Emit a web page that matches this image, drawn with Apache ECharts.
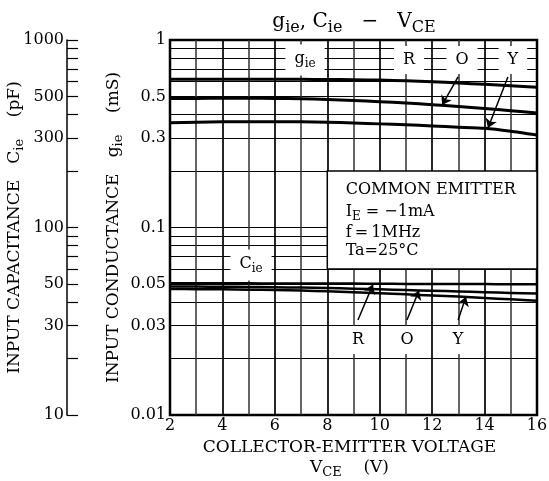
<!DOCTYPE html>
<html><head><meta charset="utf-8">
<script src="https://cdn.jsdelivr.net/npm/echarts@6/dist/echarts.min.js"></script>
<style>html,body{margin:0;padding:0;background:#fff}#c{width:549px;height:481px}</style>
</head><body><div id="c"></div>
<script>
// ---- data ----
const vce = [2, 3, 4, 5, 6, 7, 8, 9, 10, 11, 12, 13, 14, 15, 16];
// input conductance gie (mS)
const gieR = [0.617, 0.617, 0.618, 0.618, 0.618, 0.617, 0.616, 0.614, 0.611, 0.606, 0.599, 0.590, 0.580, 0.570, 0.560];
const gieO = [0.488, 0.488, 0.489, 0.489, 0.488, 0.486, 0.482, 0.476, 0.469, 0.461, 0.452, 0.442, 0.431, 0.420, 0.408];
const gieY = [0.362, 0.364, 0.366, 0.367, 0.367, 0.366, 0.364, 0.361, 0.357, 0.353, 0.348, 0.343, 0.338, 0.326, 0.311];
// input capacitance Cie (pF)
const cieR = [50.5, 50.5, 50.4, 50.4, 50.3, 50.3, 50.2, 50.2, 50.1, 50.0, 50.0, 49.9, 49.9, 49.8, 49.8];
const cieO = [48.5, 48.4, 48.3, 48.2, 48.0, 47.8, 47.5, 47.2, 46.8, 46.4, 46.0, 45.6, 45.2, 44.8, 44.4];
const cieY = [47.0, 46.9, 46.8, 46.6, 46.4, 46.1, 45.7, 45.2, 44.6, 44.0, 43.4, 42.8, 42.1, 41.4, 40.7];
// tick labels / grid ticks
const xTicks = [2, 4, 6, 8, 10, 12, 14, 16];
const gieLabels = [0.01, 0.03, 0.05, 0.1, 0.3, 0.5, 1];
const gieGrid = [0.01, 0.02, 0.03, 0.04, 0.05, 0.06, 0.07, 0.08, 0.09, 0.1, 0.2, 0.3, 0.4, 0.5, 0.6, 0.7, 0.8, 0.9, 1];
const cieLabels = [10, 30, 50, 100, 300, 500, 1000];
const cieTicks = [10, 20, 30, 40, 50, 60, 70, 80, 90, 100, 200, 300, 400, 500, 600, 700, 800, 900, 1000];

const F = 'DejaVu Serif';
function rich(size, sub, lift) {
  return {
    a: { fontFamily: F, fontSize: size, fontWeight: 'normal', color: '#000', padding: [0, 0, lift, 0], verticalAlign: 'bottom' },
    s: { fontFamily: F, fontSize: sub, fontWeight: 'normal', color: '#000', verticalAlign: 'bottom' }
  };
}
const fmt = v => String(+(+v).toPrecision(3));
const lbl = (txt) => ({
  show: true, position: 'inside', formatter: txt, color: '#000', fontFamily: F, fontSize: 16,
  backgroundColor: '#fff', padding: [6, 9], rich: rich(16, 12, 3)
});
const boxTxt = (txt) => ({
  show: true, position: 'right', distance: 0, formatter: txt, color: '#000', fontFamily: F, fontSize: 16,
  rich: rich(16, 12, 3)
});
const arrowStyle = { color: '#000', width: 1.5, type: 'solid' };

const chart = echarts.init(document.getElementById('c'));
const pts = arr => vce.map((x, i) => [x, arr[i]]);
const lineSeries = (name, arr, yi, w) => ({
  name, type: 'line', yAxisIndex: yi, data: pts(arr), showSymbol: false, smooth: 0.2,
  lineStyle: { color: '#000', width: w }, silent: true, z: 3
});

const sR = lineSeries('gie R', gieR, 0, 3);
sR.markArea = {
  silent: true,
  itemStyle: { color: '#fff', borderColor: '#000', borderWidth: 1.5 },
  data: [[{ xAxis: 8, yAxis: 0.06 }, { xAxis: 16, yAxis: 0.2 }]]
};
sR.markPoint = {
  silent: true, symbol: 'circle', symbolSize: 0, itemStyle: { color: 'transparent' },
  data: [
    { coord: [7.15, 0.782], label: lbl('{a|g}{s|ie}') },
    { coord: [11.12, 0.782], label: lbl('R') },
    { coord: [13.14, 0.782], label: lbl('O') },
    { coord: [15.08, 0.782], label: lbl('Y') },
    { coord: [8.7, 0.1585], label: boxTxt('COMMON EMITTER') },
    { coord: [8.7, 0.1195], label: boxTxt('{a|I}{s|E}{a| = −1mA}') },
    { coord: [8.7, 0.0935], label: boxTxt('f\u2009=\u20091MHz') },
    { coord: [8.7, 0.0750], label: boxTxt('Ta=25°C') }
  ]
};
sR.markLine = {
  silent: true, symbol: ['none', 'arrow'], symbolSize: 9, label: { show: false },
  lineStyle: arrowStyle,
  data: [
    [{ coord: [12.99, 0.635] }, { coord: [12.38, 0.450] }],
    [{ coord: [14.89, 0.635] }, { coord: [14.13, 0.339] }]
  ]
};
const cR = lineSeries('Cie R', cieR, 1, 2.5);
cR.markPoint = {
  silent: true, symbol: 'circle', symbolSize: 0, itemStyle: { color: 'transparent' },
  data: [
    { coord: [5.09, 63.1], label: lbl('{a|C}{s|ie}') },
    { coord: [9.17, 25.1], label: lbl('R') },
    { coord: [11.04, 25.1], label: lbl('O') },
    { coord: [12.99, 25.1], label: lbl('Y') }
  ]
};
cR.markLine = {
  silent: true, symbol: ['none', 'arrow'], symbolSize: 9, label: { show: false },
  lineStyle: arrowStyle,
  data: [
    [{ coord: [9.17, 32.1] }, { coord: [9.74, 49.6] }],
    [{ coord: [11.04, 32.1] }, { coord: [11.5, 46.2] }],
    [{ coord: [12.99, 32.1] }, { coord: [13.29, 42.7] }]
  ]
};

chart.setOption({
  animation: false,
  backgroundColor: '#fff',
  title: {
    text: '{a|g}{s|ie}{a|, C}{s|ie}{a|   −   V}{s|CE}',
    left: 349, top: 7, textAlign: 'center',
    textStyle: { fontFamily: F, fontSize: 20, fontWeight: 'normal', color: '#000', rich: rich(20, 16, 4) }
  },
  grid: { left: 170, right: 12, top: 40, bottom: 66, show: true, borderColor: '#000', borderWidth: 2.5,
          backgroundColor: 'transparent', containLabel: false, outerBoundsMode: 'none' },
  xAxis: {
    type: 'value', min: 2, max: 16, interval: 2,
    axisLine: { show: false }, axisTick: { show: false },
    axisLabel: { customValues: xTicks, color: '#000', fontFamily: F, fontSize: 16, margin: 3 },
    splitLine: { show: true, lineStyle: { color: '#000', width: 1.7 } },
    minorTick: { show: false, splitNumber: 2 },
    minorSplitLine: { show: true, lineStyle: { color: '#333', width: 1.5 } },
    name: 'COLLECTOR-EMITTER VOLTAGE\n{a|V}{s|CE}{a|    (V)}',
    nameLocation: 'middle', nameGap: 22, nameMoveOverlap: false,
    nameTextStyle: { fontFamily: F, fontSize: 17, color: '#000', lineHeight: 21, padding: [0, 8, 0, 0], rich: rich(17, 13, 3) }
  },
  yAxis: [
    {
      type: 'log', logBase: 10, min: 0.01, max: 1, position: 'left',
      axisLine: { show: false },
      axisTick: { show: false, customValues: gieGrid },
      axisLabel: { customValues: gieLabels, formatter: fmt, color: '#000', fontFamily: F, fontSize: 16, margin: 4 },
      splitLine: { show: true, lineStyle: { color: '#000', width: 1.2 } },
      name: '{a|INPUT CONDUCTANCE   g}{s|ie}{a|    (mS)}',
      nameLocation: 'middle', nameRotate: 90, nameGap: 45, nameMoveOverlap: false,
      nameTextStyle: { fontFamily: F, fontSize: 17, color: '#000', rich: rich(17, 13, 3) }
    },
    {
      type: 'log', logBase: 10, min: 10, max: 1000, position: 'left', offset: 103,
      axisLine: { show: true, lineStyle: { color: '#000', width: 1.5 } },
      axisTick: { show: true, inside: true, length: 11, customValues: cieTicks, lineStyle: { color: '#000', width: 1.2 } },
      axisLabel: { customValues: cieLabels, formatter: fmt, color: '#000', fontFamily: F, fontSize: 16, margin: 3 },
      splitLine: { show: false },
      name: '{a|INPUT CAPACITANCE   C}{s|ie}{a|    (pF)}',
      nameLocation: 'middle', nameRotate: 90, nameGap: 41, nameMoveOverlap: false,
      nameTextStyle: { fontFamily: F, fontSize: 17, color: '#000', rich: rich(17, 13, 3) }
    }
  ],
  series: [
    sR,
    lineSeries('gie O', gieO, 0, 3),
    lineSeries('gie Y', gieY, 0, 3),
    cR,
    lineSeries('Cie O', cieO, 1, 2.5),
    lineSeries('Cie Y', cieY, 1, 2.5)
  ]
});
</script></body></html>
